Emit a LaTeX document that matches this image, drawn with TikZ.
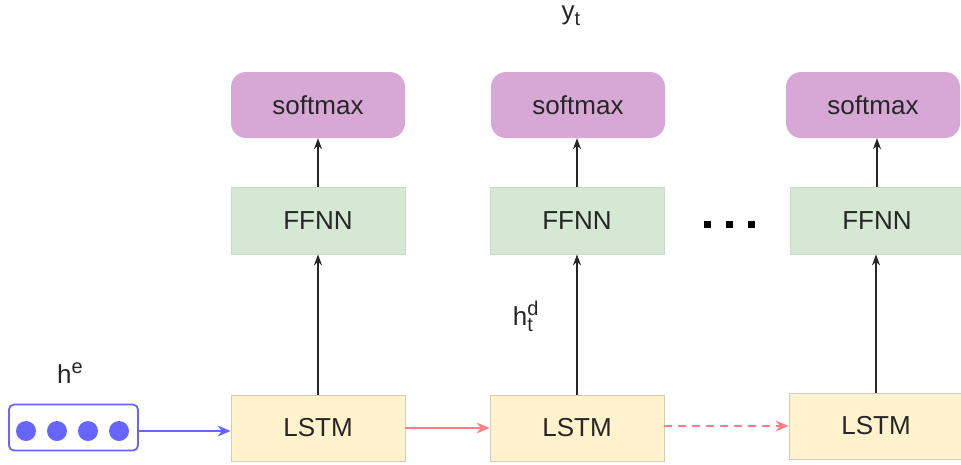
\documentclass[tikz,border=0pt]{standalone}
\usepackage{fontspec}
\setmainfont{Liberation Sans}
\usetikzlibrary{arrows.meta}
\definecolor{smfill}{HTML}{D7A8D6}
\definecolor{fffill}{HTML}{D5E8D4}
\definecolor{ffdraw}{HTML}{C9DCC8}
\definecolor{lsfill}{HTML}{FFF2CC}
\definecolor{lsdraw}{HTML}{D4CCB4}
\definecolor{bluec}{HTML}{6666FF}
\definecolor{redc}{HTML}{FF7F86}
\newcommand\mysub[1]{\raisebox{-6pt}{\fontsize{20}{22}\selectfont #1}}
\newcommand\mysup[1]{\raisebox{10pt}{\fontsize{20}{22}\selectfont #1}}
\tikzset{
  base/.style={inner sep=0pt, font=\fontsize{26}{30}\selectfont, text=black!85},
  smbox/.style={base, fill=smfill, rounded corners=15pt, minimum width=174pt, minimum height=66pt},
  ffbox/.style={base, fill=fffill, draw=ffdraw, line width=0.8pt, minimum width=174pt, minimum height=67pt},
  lsbox/.style={base, fill=lsfill, draw=lsdraw, line width=0.8pt, minimum width=174pt, minimum height=66pt},
  lbl/.style={base},
  blk/.style={-{Stealth[length=11pt,width=8pt]}, line width=1.6pt, black!85},
  redarr/.style={-{Stealth[length=13pt,width=11pt]}, line width=1.8pt, redc},
  bluearr/.style={-{Stealth[length=13pt,width=11pt]}, line width=1.6pt, bluec},
  dotsq/.style={fill=black, inner sep=0pt, minimum size=7pt},
  encdot/.style={circle, fill=bluec, inner sep=0pt, minimum size=20pt}
}
\begin{document}
\begin{tikzpicture}[x=1pt,y=-1pt]
\useasboundingbox (0,0) rectangle (961,464);
% column 1
\node[smbox] (s1) at (318,105) {softmax};
\node[ffbox] (f1) at (318,220.5) {FFNN};
\node[lsbox] (l1) at (318,428) {LSTM};
% column 2
\node[smbox] (s2) at (578,105) {softmax};
\node[ffbox] (f2) at (577,220.5) {FFNN};
\node[lsbox] (l2) at (577,428) {LSTM};
% column 3
\node[smbox] (s3) at (873,105) {softmax};
\node[ffbox] (f3) at (877,220.5) {FFNN};
\node[lsbox] (l3) at (876,426) {LSTM};
% encoder state
\node[draw=bluec, line width=1.8pt, rounded corners=5pt, minimum width=129pt, minimum height=46pt, inner sep=0pt] (he) at (73.5,427.5) {};
\node[encdot] (d1) at (26,431) {};
\node[encdot] (d2) at (57,431) {};
\node[encdot] (d3) at (88,431) {};
\node[encdot] (d4) at (119,431) {};
% labels
\node[lbl] (yt) at (571,16) {y\mysub{t}};
\node[lbl] (helbl) at (70,373) {h\mysup{e}};
\node[lbl] (hd) at (523,316) {h\rlap{\mysup{d}}\mysub{t}};
% ellipsis
\node[dotsq] (e1) at (707.5,224.5) {};
\node[dotsq] (e2) at (729.5,224.5) {};
\node[dotsq] (e3) at (751.5,224.5) {};
% vertical arrows
\draw[blk] (l1.north) -- (l1.north |- f1.south);
\draw[blk] (f1.north) -- (f1.north |- s1.south);
\draw[blk] (l2.north) -- (l2.north |- f2.south);
\draw[blk] (f2.north) -- (f2.north |- s2.south);
\draw[blk] (l3.north) -- (l3.north |- f3.south);
\draw[blk] (f3.north) -- (f3.north |- s3.south);
% horizontal arrows
\draw[bluearr] (he.east |- d4) -- (l1.west |- d4);
\draw[redarr] (l1.east) -- (l2.west);
\draw[redarr, dashed, dash pattern=on 8pt off 6pt] (l2.east |- l3.west) -- (l3.west);
\end{tikzpicture}
\end{document}
